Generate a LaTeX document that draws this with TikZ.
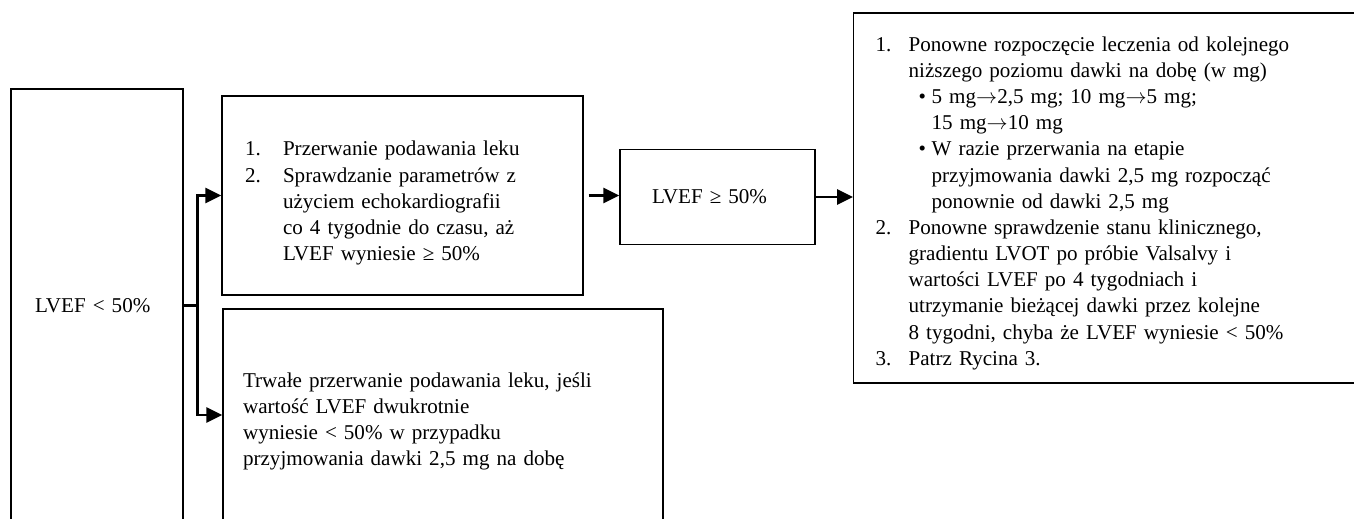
\documentclass[tikz,border=0pt]{standalone}
\usepackage{fontspec}
\setmainfont{Liberation Serif}
\usetikzlibrary{arrows.meta,positioning}

\tikzset{
  box/.style={draw,line width=0.75pt,align=left,inner ysep=0pt,
    font=\fontsize{12}{14.9}\selectfont},
  conn/.style={line width=1.5pt,-{Triangle[length=0.32cm,width=0.3cm]}},
}

\begin{document}
\begin{tikzpicture}[x=0.02cm,y=-0.02cm]
    \useasboundingbox (0,0) rectangle (1354,519);
    \clip (0,0) rectangle (1354,519);
    % boxes
    \node[box,minimum height=8.66cm,text width=2.48cm,inner xsep=0.48cm] (lt) at (97,305.5) {LVEF < 50\%};
    \node[box,minimum height=3.98cm,text width=6.3cm,inner xsep=0.46cm] (stop) at (402.5,195.5) {%
      \rule{0pt}{0.6cm}\makebox[0.76cm][l]{1.}Przerwanie podawania leku\\
      \makebox[0.76cm][l]{2.}Sprawdzanie parametrów z\\
      \hspace*{0.76cm}użyciem echokardiografii\\
      \hspace*{0.76cm}co 4 tygodnie do czasu, aż\\
      \hspace*{0.76cm}LVEF wyniesie ≥ 50\%};
    \node[box,minimum height=4.24cm,text width=8cm,inner xsep=0.4cm] (perm) at (443,415) {%
      \rule{0pt}{0.56cm}Trwałe przerwanie podawania leku, jeśli\\
      wartość LVEF dwukrotnie\\
      wyniesie < 50\% w przypadku\\
      przyjmowania dawki 2,5 mg na dobę};
    \node[box,minimum height=1.9cm,text width=2.62cm,inner xsep=0.64cm] (ok) at (717.5,197) {LVEF ≥ 50\%};
    \node[box,minimum height=7.4cm,text width=9.66cm,inner xsep=0.44cm,anchor=west] (restart) at (853,198) {%
      \rule{0pt}{0.5cm}\makebox[0.66cm][l]{1.}Ponowne rozpoczęcie leczenia od kolejnego\\
      \hspace*{0.66cm}niższego poziomu dawki na dobę (w mg)\\
      \hspace*{0.86cm}\makebox[0.26cm][l]{•}5 mg$\rightarrow$2,5 mg; 10 mg$\rightarrow$5 mg;\\
      \hspace*{1.12cm}15 mg$\rightarrow$10 mg\\
      \hspace*{0.86cm}\makebox[0.26cm][l]{•}W razie przerwania na etapie\\
      \hspace*{1.12cm}przyjmowania dawki 2,5 mg rozpocząć\\
      \hspace*{1.12cm}ponownie od dawki 2,5 mg\\
      \makebox[0.66cm][l]{2.}Ponowne sprawdzenie stanu klinicznego,\\
      \hspace*{0.66cm}gradientu LVOT po próbie Valsalvy i\\
      \hspace*{0.66cm}wartości LVEF po 4 tygodniach i\\
      \hspace*{0.66cm}utrzymanie bieżącej dawki przez kolejne\\
      \hspace*{0.66cm}8 tygodni, chyba że LVEF wyniesie < 50\%\\
      \makebox[0.66cm][l]{3.}Patrz Rycina 3.};
    % arrows
    \draw[conn] (lt.east) -- ++(14,0) |- (stop.west);
    \draw[conn] (lt.east) -- ++(14,0) |- (perm.west);
    \draw[conn,shorten <=0.1cm] (stop.east) -- (stop.east -| ok.west);
    \draw[conn] (ok.east) -- (ok.east -| restart.west);
\end{tikzpicture}
\end{document}
